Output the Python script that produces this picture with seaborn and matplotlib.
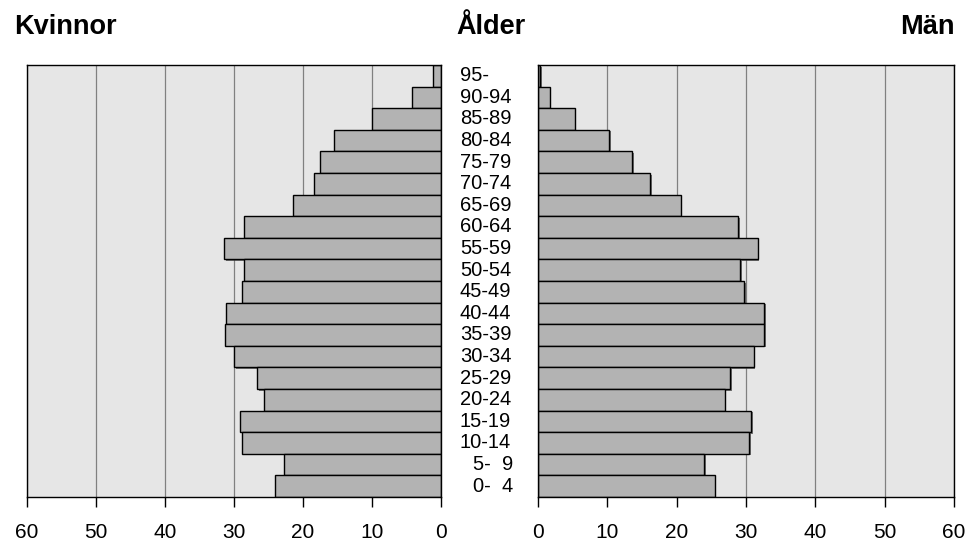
import pandas as pd
import seaborn as sns
import matplotlib.pyplot as plt
import matplotlib.patheffects as pe

# Age groups, top to bottom
ages = ["95-", "90-94", "85-89", "80-84", "75-79", "70-74", "65-69", "60-64",
        "55-59", "50-54", "45-49", "40-44", "35-39", "30-34", "25-29", "20-24",
        "15-19", "10-14", "5-  9", "0-  4"]

kvinnor = [1.1, 4.2, 10.0, 15.5, 17.6, 18.4, 21.4, 28.5, 31.4, 28.6,
           28.8, 31.1, 31.3, 30.0, 26.6, 25.7, 29.1, 28.9, 22.8, 24.1]
man = [0.3, 1.7, 5.3, 10.3, 13.6, 16.2, 20.6, 28.9, 31.7, 29.2,
       29.7, 32.6, 32.6, 31.1, 27.7, 26.9, 30.7, 30.5, 24.0, 25.5]

ticks = [0, 10, 20, 30, 40, 50, 60]

sns.set_style("white")
plt.rcParams['font.family'] = ['Liberation Sans', 'DejaVu Sans']
plt.rcParams['text.color'] = 'black'
plt.rcParams['xtick.color'] = 'black'

df = pd.DataFrame({"Ålder": ages, "Kvinnor": kvinnor, "Män": man})

fig = plt.figure(figsize=(9.67, 5.42), dpi=100)
ax_l = fig.add_axes([27 / 967, 45 / 542, 414 / 967, 432 / 542])
ax_r = fig.add_axes([538 / 967, 45 / 542, 416 / 967, 432 / 542])

shadow = [pe.SimplePatchShadow(offset=(1.2, -1.2), shadow_rgbFace='0.25', alpha=0.7), pe.Normal()]

for ax, col in [(ax_l, "Kvinnor"), (ax_r, "Män")]:
    ax.set_facecolor("#e6e6e6")
    ax.set_axisbelow(True)
    ax.grid(axis="x", color="#808080", linewidth=0.9)
    sns.barplot(data=df, x=col, y="Ålder", order=ages, orient="h", width=1.0,
                color="#b3b3b3", saturation=1, edgecolor="black", linewidth=1.0, ax=ax)
    for p in ax.patches:
        p.set_path_effects(shadow)
    ax.set_xlim(0, 60)
    ax.set_ylim(len(ages) - 0.5, -0.5)
    ax.set_xticks(ticks)
    ax.set_yticks([])
    ax.set_xlabel("")
    ax.set_ylabel("")
    ax.tick_params(axis="x", direction="out", length=7, width=1, color="black",
                   labelcolor="black", pad=12, labelsize=15, bottom=True)
    for s in ax.spines.values():
        s.set_visible(True)
        s.set_color("black")
        s.set_linewidth(1.0)

ax_l.invert_xaxis()

# age labels in the middle, between the two panels
ytr = ax_r.get_yaxis_transform()
for i, a in enumerate(ages):
    if a.startswith(("5-", "0-")):
        ax_r.text(-0.06, i, a, transform=ytr, ha="right", va="center", fontsize=14.5, color="black")
    else:
        ax_r.text(-0.188, i, a, transform=ytr, ha="left", va="center", fontsize=14.5, color="black")

fig.text(14 / 967, 1 - 34 / 542, "Kvinnor", ha="left", va="baseline", fontsize=19.5, fontweight="bold")
fig.text(491 / 967, 1 - 34 / 542, "Ålder", ha="center", va="baseline", fontsize=19.5, fontweight="bold")
fig.text(955 / 967, 1 - 34 / 542, "Män", ha="right", va="baseline", fontsize=19.5, fontweight="bold")

fig.savefig("out.png", dpi=100)
